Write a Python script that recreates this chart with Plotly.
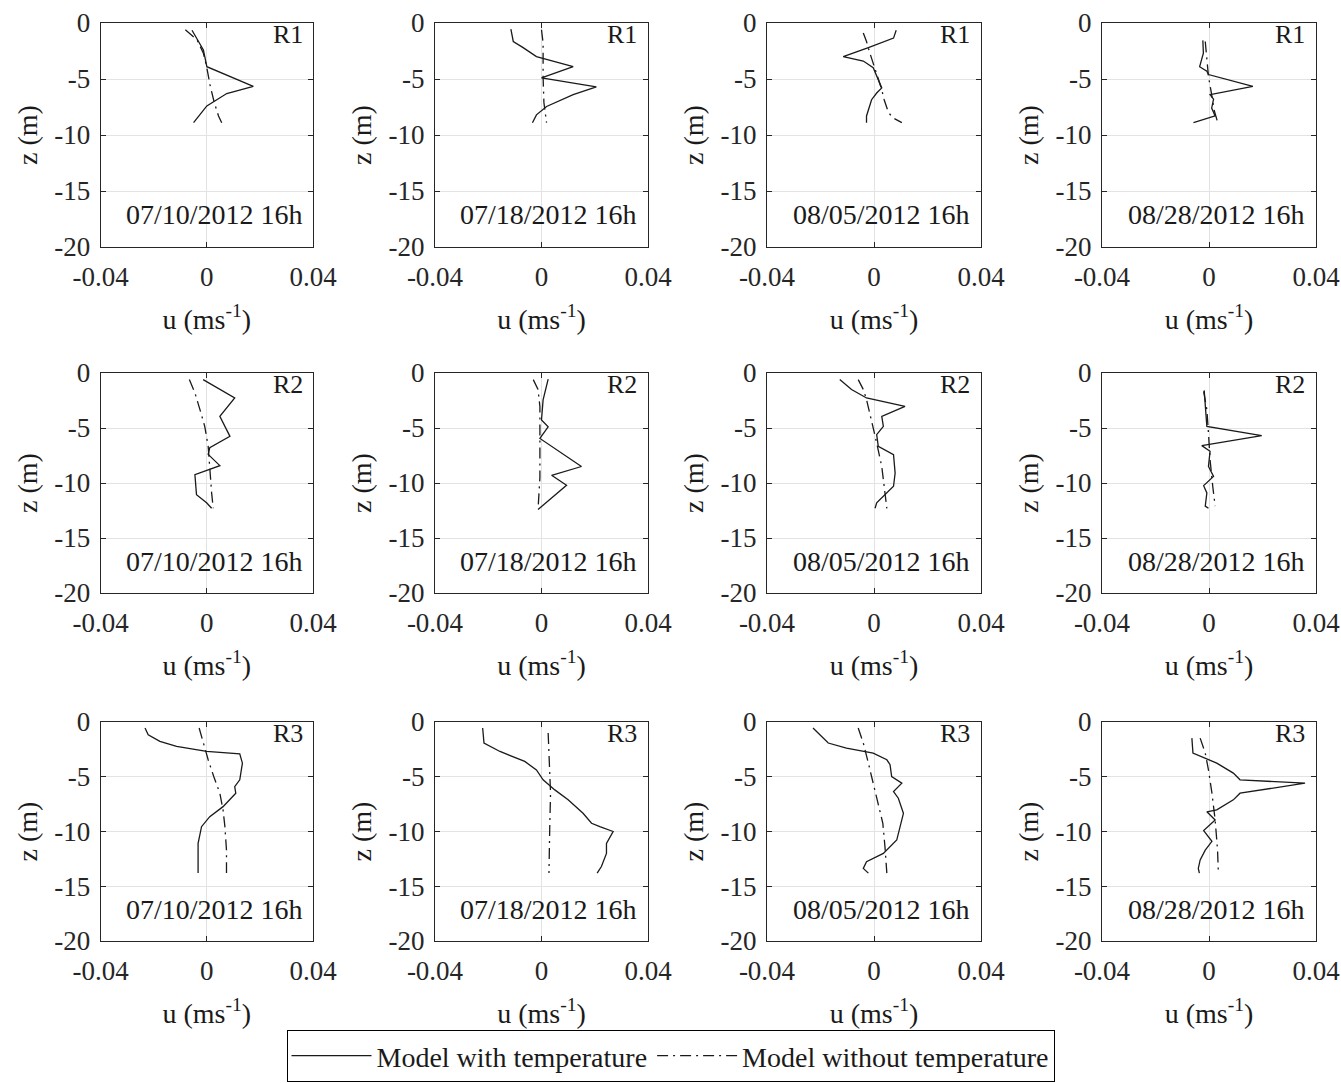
import plotly.graph_objects as go

# Velocity profiles u (m/s) against depth z (m) at three stations and four dates
dates = ["07/10/2012 16h", "07/18/2012 16h", "08/05/2012 16h", "08/28/2012 16h"]
stations = ["R1", "R2", "R3"]

# ---- R1 ----
r1_0710_with_z = [-0.65, -1.6, -2.4, -3.9, -5.65, -6.3, -7.4, -8.9]
r1_0710_with_u = [-0.0056, -0.0031, -0.0013, 0.0, 0.0175, 0.0075, 0.0, -0.005]
r1_0710_wo_z = [-0.6, -1.5, -2.7, -4.0, -5.65, -7.1, -8.3, -8.9]
r1_0710_wo_u = [-0.0081, -0.0037, -0.0013, 0.0, 0.0013, 0.0028, 0.0044, 0.0056]

r1_0718_with_z = [-0.55, -1.65, -2.2, -3.0, -3.9, -4.9, -5.7, -6.4, -7.45, -8.2, -8.9]
r1_0718_with_u = [-0.0115, -0.0106, -0.0069, -0.0019, 0.0119, 0.0, 0.0206, 0.0119, 0.0019, -0.0019, -0.0034]
r1_0718_wo_z = [-0.6, -1.8, -4.8, -7.1, -8.9]
r1_0718_wo_u = [0.0, 0.0006, 0.0006, 0.0009, 0.0019]

r1_0805_with_z = [-0.65, -1.35, -2.2, -3.0, -3.4, -4.0, -5.8, -6.25, -6.85, -8.3, -8.9]
r1_0805_with_u = [0.0083, 0.0073, -0.0021, -0.0115, -0.004, -0.0003, 0.0029, 0.001, -0.0009, -0.0028, -0.0028]
r1_0805_wo_z = [-0.9, -1.65, -2.5, -3.6, -4.8, -5.95, -6.85, -8.0, -8.5, -8.9]
r1_0805_wo_u = [-0.004, -0.0028, -0.0018, -0.0003, 0.0016, 0.0029, 0.0038, 0.0054, 0.0073, 0.0104]

r1_0828_with_z = [-1.55, -2.7, -3.9, -4.3, -4.6, -5.65, -6.4, -6.8, -7.6, -8.3, -8.9]
r1_0828_with_u = [-0.0023, -0.0021, -0.0035, -0.0008, -0.0002, 0.0164, 0.0004, 0.0017, 0.001, 0.0023, -0.0058]
r1_0828_wo_z = [-1.65, -3.0, -4.75, -6.55, -7.75, -8.85]
r1_0828_wo_u = [-0.0014, -0.0008, -0.0002, 0.0011, 0.0019, 0.0032]

# ---- R2 ----
r2_0710_with_z = [-0.6, -2.27, -3.94, -5.76, -6.8, -7.4, -8.42, -9.24, -11.06, -11.8, -12.3]
r2_0710_with_u = [-0.0014, 0.0105, 0.0049, 0.0087, 0.0011, 0.0005, 0.0049, -0.0045, -0.0039, -0.0001, 0.0018]
r2_0710_wo_z = [-0.6, -1.8, -3.33, -4.85, -6.67, -8.8, -10.9, -12.3]
r2_0710_wo_u = [-0.0066, -0.0045, -0.0026, -0.0008, 0.0005, 0.0011, 0.0018, 0.0024]

r2_0718_with_z = [-0.55, -2.44, -4.27, -4.9, -5.95, -8.5, -9.3, -10.2, -12.4]
r2_0718_with_u = [0.0025, 0.0006, 0.0, 0.0025, -0.0006, 0.015, 0.0038, 0.0094, -0.0013]
r2_0718_wo_z = [-0.6, -1.5, -3.05, -6.4, -9.5, -12.4]
r2_0718_wo_u = [-0.0031, -0.0013, -0.0006, -0.0006, -0.0006, -0.0013]

r2_0805_with_z = [-0.6, -1.5, -2.27, -3.03, -3.94, -4.85, -5.6, -6.67, -7.42, -9.1, -10.3, -11.8, -12.3]
r2_0805_with_u = [-0.0128, -0.0084, -0.0028, 0.0116, 0.0029, 0.0035, 0.001, 0.0016, 0.0073, 0.0079, 0.0073, 0.001, 0.0004]
r2_0805_wo_z = [-0.6, -1.5, -2.4, -4.24, -6.36, -8.5, -10.9, -12.3]
r2_0805_wo_u = [-0.0059, -0.004, -0.0028, -0.0009, 0.001, 0.0029, 0.0041, 0.0048]

r2_0828_with_z = [-1.58, -3.33, -4.85, -5.7, -6.6, -7.12, -8.5, -9.4, -10.24, -10.9, -12.1, -12.3]
r2_0828_with_u = [-0.0018, -0.0014, -0.0008, 0.0197, -0.0027, 0.0004, -0.0002, 0.0017, -0.002, -0.0008, -0.0014, -0.0002]
r2_0828_wo_z = [-1.67, -3.33, -5.45, -7.9, -10.3, -12.1]
r2_0828_wo_u = [-0.002, -0.0008, -0.0002, 0.0004, 0.0014, 0.0023]

# ---- R3 ----
r3_0710_with_z = [-0.55, -1.16, -1.77, -2.23, -2.69, -2.9, -3.76, -5.28, -5.9, -6.5, -7.73, -8.64, -9.56, -11.08, -13.8]
r3_0710_with_u = [-0.0233, -0.0221, -0.0177, -0.0114, -0.0001, 0.0124, 0.0134, 0.0124, 0.0105, 0.0109, 0.0061, 0.0011, -0.002, -0.0033, -0.0033]
r3_0710_wo_z = [-0.55, -1.92, -3.45, -4.98, -6.5, -8.03, -9.56, -11.7, -13.8]
r3_0710_wo_u = [-0.0029, -0.0014, 0.0005, 0.0026, 0.0049, 0.0061, 0.0068, 0.0074, 0.0074]

r3_0718_with_z = [-0.55, -1.92, -2.69, -3.6, -4.37, -5.28, -6.2, -7.11, -8.34, -9.25, -9.56, -10.0, -11.08, -12.0, -13.2, -13.8]
r3_0718_with_u = [-0.0221, -0.0216, -0.0156, -0.0063, -0.0019, 0.0006, 0.005, 0.01, 0.0156, 0.0188, 0.0219, 0.0269, 0.0244, 0.0244, 0.0225, 0.0209]
r3_0718_wo_z = [-1.0, -3.45, -6.5, -9.56, -13.8]
r3_0718_wo_u = [0.0025, 0.0029, 0.0034, 0.0031, 0.0028]

r3_0805_with_z = [-0.55, -1.31, -1.92, -2.38, -2.84, -3.45, -3.9, -4.98, -5.59, -6.35, -6.96, -8.34, -9.56, -10.78, -12.0, -12.76, -13.37, -13.8]
r3_0805_with_u = [-0.0228, -0.0196, -0.0171, -0.0103, -0.0003, 0.0048, 0.006, 0.0066, 0.0104, 0.0073, 0.0091, 0.011, 0.0098, 0.0085, 0.0035, -0.0028, -0.004, -0.0021]
r3_0805_wo_z = [-0.55, -1.92, -3.76, -5.59, -7.42, -9.25, -11.4, -13.8]
r3_0805_wo_u = [-0.0059, -0.004, -0.0021, -0.0003, 0.0016, 0.0033, 0.0041, 0.0048]

r3_0828_with_z = [-1.47, -2.84, -3.76, -4.67, -5.28, -5.59, -6.5, -7.11, -8.03, -8.2, -8.95, -9.56, -9.92, -10.9, -11.7, -12.6, -13.37, -13.8]
r3_0828_with_u = [-0.0064, -0.006, 0.0029, 0.0091, 0.0116, 0.0359, 0.0116, 0.0091, 0.0029, -0.0008, 0.0023, -0.0002, -0.002, 0.0011, -0.0014, -0.0033, -0.004, -0.0036]
r3_0828_wo_z = [-1.47, -2.84, -4.37, -6.5, -8.95, -11.7, -13.8]
r3_0828_wo_u = [-0.0033, -0.0014, -0.0002, 0.0011, 0.0023, 0.0032, 0.0035]

profiles_with = [
    [(r1_0710_with_u, r1_0710_with_z), (r1_0718_with_u, r1_0718_with_z), (r1_0805_with_u, r1_0805_with_z), (r1_0828_with_u, r1_0828_with_z)],
    [(r2_0710_with_u, r2_0710_with_z), (r2_0718_with_u, r2_0718_with_z), (r2_0805_with_u, r2_0805_with_z), (r2_0828_with_u, r2_0828_with_z)],
    [(r3_0710_with_u, r3_0710_with_z), (r3_0718_with_u, r3_0718_with_z), (r3_0805_with_u, r3_0805_with_z), (r3_0828_with_u, r3_0828_with_z)],
]
profiles_without = [
    [(r1_0710_wo_u, r1_0710_wo_z), (r1_0718_wo_u, r1_0718_wo_z), (r1_0805_wo_u, r1_0805_wo_z), (r1_0828_wo_u, r1_0828_wo_z)],
    [(r2_0710_wo_u, r2_0710_wo_z), (r2_0718_wo_u, r2_0718_wo_z), (r2_0805_wo_u, r2_0805_wo_z), (r2_0828_wo_u, r2_0828_wo_z)],
    [(r3_0710_wo_u, r3_0710_wo_z), (r3_0718_wo_u, r3_0718_wo_z), (r3_0805_wo_u, r3_0805_wo_z), (r3_0828_wo_u, r3_0828_wo_z)],
]

x_ticks = [-0.04, 0, 0.04]
x_ticktext = ["-0.04", "0", "0.04"]
y_ticks = [-20, -15, -10, -5, 0]
y_ticktext = ["-20", "-15", "-10", "-5", "0"]

W, H = 1341, 1083
col_px = [(100.7, 313), (435, 648), (767, 981), (1102, 1316)]
row_px = [(23, 247), (373, 593), (722, 941)]

FONT = "Liberation Serif"
INK = "#1a1a1a"
AXIS_INK = "#262626"
GRID = "#e3e3e3"
FS = 28
DASHDOT = "11px,5px,2px,5px"

fig = go.Figure()
layout = dict(
    width=W, height=H,
    margin=dict(l=0, r=0, t=0, b=0, autoexpand=False),
    paper_bgcolor="white", plot_bgcolor="white",
    font=dict(family=FONT, size=FS, color=AXIS_INK),
    showlegend=True,
    legend=dict(
        orientation="h", x=0.5, xanchor="center", y=0.001, yanchor="bottom",
        bordercolor="#000000", borderwidth=1, bgcolor="white",
        font=dict(family=FONT, size=FS, color=INK),
        itemwidth=80, tracegroupgap=0,
    ),
)
annotations = []

for r in range(3):
    for c in range(4):
        k = r * 4 + c + 1
        xa = "x" if k == 1 else f"x{k}"
        ya = "y" if k == 1 else f"y{k}"
        xl, xr = col_px[c]
        yt, yb = row_px[r]
        u, z = profiles_with[r][c]
        fig.add_trace(go.Scatter(
            x=u, y=z, mode="lines", xaxis=xa, yaxis=ya,
            line=dict(color=INK, width=1.3),
            name="Model with temperature", legendgroup="with",
            showlegend=(k == 1),
        ))
        u, z = profiles_without[r][c]
        fig.add_trace(go.Scatter(
            x=u, y=z, mode="lines", xaxis=xa, yaxis=ya,
            line=dict(color=INK, width=1.3, dash=DASHDOT),
            name="Model without temperature", legendgroup="without",
            showlegend=(k == 1),
        ))
        axis_common = dict(
            showline=True, mirror="ticks", linecolor=AXIS_INK, linewidth=1,
            showgrid=True, gridcolor=GRID, gridwidth=1,
            zeroline=False, ticks="inside", ticklen=5, tickcolor=AXIS_INK,
            tickfont=dict(family=FONT, size=FS - 1, color=AXIS_INK),
            automargin=False,
        )
        layout["xaxis" + ("" if k == 1 else str(k))] = dict(
            axis_common,
            domain=[xl / W, xr / W], anchor=ya, range=[-0.04, 0.04],
            tickvals=x_ticks, ticktext=x_ticktext, ticklabelstandoff=6,
            title=dict(text="u (ms<sup>-1</sup>)", standoff=17,
                       font=dict(family=FONT, size=FS, color=INK)),
        )
        layout["yaxis" + ("" if k == 1 else str(k))] = dict(
            axis_common,
            domain=[1 - yb / H, 1 - yt / H], anchor=xa, range=[-20, 0],
            tickvals=y_ticks, ticktext=y_ticktext, ticklabelstandoff=4,
            title=dict(text="z (m)", standoff=8,
                       font=dict(family=FONT, size=FS, color=INK)),
        )
        annotations.append(dict(
            text=stations[r], xref=f"{xa} domain", yref=f"{ya} domain",
            x=0.96, y=0.948, xanchor="right", yanchor="middle", showarrow=False,
            font=dict(family=FONT, size=FS - 2, color=INK),
        ))
        annotations.append(dict(
            text=dates[c], xref=f"{xa} domain", yref=f"{ya} domain",
            x=0.96, y=0.145, xanchor="right", yanchor="middle", showarrow=False,
            font=dict(family=FONT, size=FS, color=INK),
        ))

layout["annotations"] = annotations
fig.update_layout(**layout)
fig.write_html("out.html")
